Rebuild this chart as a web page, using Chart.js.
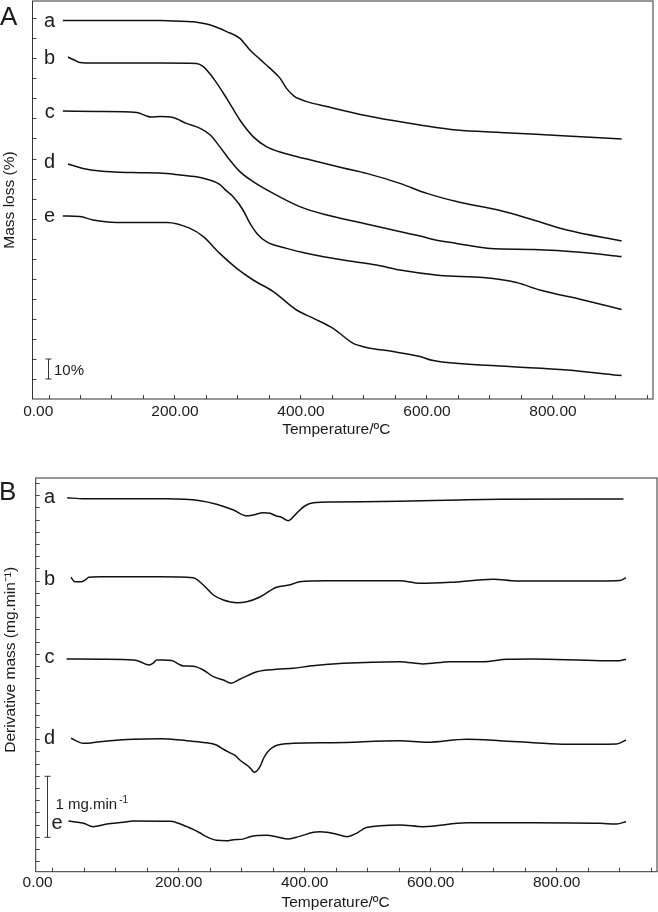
<!DOCTYPE html>
<html>
<head>
<meta charset="utf-8">
<script src="https://cdn.jsdelivr.net/npm/chart.js@4.4.1/dist/chart.umd.min.js"></script>
<style>
html,body{margin:0;padding:0;background:#fff;}
#wrap{position:relative;width:658px;height:912px;overflow:hidden;}
canvas{position:absolute;left:0;}
#cA{top:0;}
#cB{top:450px;}
</style>
</head>
<body>
<div id="wrap">
<canvas id="cA" width="658" height="450"></canvas>
<canvas id="cB" width="658" height="462"></canvas>
</div>
<script>
// ---------------- DATA ----------------
const curveNames = ['a', 'b', 'c', 'd', 'e'];

// Temperature axis ticks (ºC), labelled every 200
const tempTicks = [0, 50, 100, 150, 200, 250, 300, 350, 400, 450, 500, 550, 600, 650, 700, 750, 800, 850, 900, 950];
const tempLabelled = [0, 200, 400, 600, 800];

// Panel A (mass loss, stacked curves, % units) — y tick positions every 10 %
const tgaTicks = [10, 20, 30, 40, 50, 60, 70, 80, 90, 100, 110, 120, 130, 140, 150, 160, 170, 180, 190];

const tgaT_a = [22, 100, 176, 200, 229, 256, 282, 303, 319, 335, 351, 367, 377, 390, 398, 409, 441, 494, 546, 589, 647, 716, 822, 909];
const tgaM_a = [189.2, 189.2, 189.2, 189.0, 188.6, 187.0, 183.7, 180.3, 174.5, 169.8, 165.3, 160.3, 155.3, 151.2, 150.0, 148.7, 146.2, 142.3, 139.2, 137.0, 134.5, 133.3, 131.5, 130.0];

const tgaT_b = [30, 40, 49, 70, 120, 176, 234, 245, 261, 282, 303, 324, 345, 372, 398, 414, 467, 504, 557, 600, 647, 716, 769, 822, 909];
const tgaM_b = [171.0, 169.5, 168.3, 168.0, 168.0, 168.0, 167.8, 166.2, 160.3, 150.3, 139.5, 131.2, 126.2, 123.0, 120.8, 119.6, 115.5, 112.8, 107.8, 102.8, 98.7, 94.2, 89.5, 84.5, 79.0];

const tgaT_c = [22, 80, 139, 155, 163, 176, 197, 218, 240, 256, 271, 287, 303, 324, 356, 398, 441, 494, 546, 589, 610, 647, 700, 769, 848, 909];
const tgaM_c = [144.0, 143.8, 143.3, 141.5, 141.0, 141.2, 140.7, 137.8, 135.3, 132.0, 126.2, 119.5, 113.7, 108.7, 102.8, 96.2, 92.0, 88.2, 84.5, 81.5, 79.8, 77.8, 75.3, 74.8, 73.3, 71.2];

const tgaT_d = [30, 54, 81, 134, 187, 208, 240, 266, 274, 279, 292, 308, 319, 330, 345, 377, 414, 467, 520, 557, 621, 689, 742, 779, 848, 909];
const tgaM_d = [117.5, 115.3, 114.0, 113.2, 112.8, 112.0, 110.8, 108.2, 106.5, 104.8, 101.2, 94.5, 87.8, 82.8, 78.7, 75.3, 72.5, 69.5, 67.0, 64.5, 61.8, 60.7, 58.2, 54.5, 49.5, 44.8];

const tgaT_e = [22, 49, 70, 107, 187, 224, 245, 271, 298, 324, 356, 393, 420, 451, 483, 504, 546, 589, 610, 716, 822, 909];
const tgaM_e = [91.5, 91.2, 89.5, 88.3, 88.3, 85.3, 81.2, 72.8, 65.3, 59.5, 53.7, 44.5, 40.3, 35.3, 27.8, 25.8, 23.7, 21.2, 19.2, 16.5, 14.5, 11.7];

// Panel B (derivative mass, stacked curves, mg/min units) — y ticks every 0.2
const dtgTicks = [0, 0.2, 0.4, 0.6, 0.8, 1.0, 1.2, 1.4, 1.6, 1.8, 2.0, 2.2, 2.4, 2.6, 2.8, 3.0, 3.2, 3.4, 3.6, 3.8, 4.0, 4.2, 4.4, 4.6, 4.8, 5.0, 5.2, 5.4, 5.6, 5.8, 6.0, 6.2];

const dtgT_a = [23, 49, 181, 234, 260, 287, 308, 318, 334, 345, 355, 363, 374, 387, 400, 414, 445, 551, 646, 710, 906];
const dtgD_a = [5.967, 5.95, 5.95, 5.918, 5.86, 5.765, 5.67, 5.684, 5.721, 5.711, 5.667, 5.646, 5.59, 5.711, 5.831, 5.885, 5.897, 5.908, 5.93, 5.941, 5.946];

const dtgT_b = [29, 35, 46, 53, 57, 75, 170, 223, 239, 255, 271, 292, 308, 329, 355, 377, 392, 435, 551, 583, 631, 699, 736, 869, 900, 910];
const dtgD_b = [4.662, 4.59, 4.59, 4.63, 4.662, 4.672, 4.672, 4.656, 4.536, 4.372, 4.29, 4.246, 4.262, 4.34, 4.498, 4.54, 4.59, 4.607, 4.607, 4.564, 4.58, 4.63, 4.602, 4.602, 4.61, 4.656];

const dtgT_c = [22, 80, 128, 139, 147, 153, 160, 165, 176, 189, 200, 207, 223, 239, 255, 271, 283, 297, 324, 355, 382, 408, 461, 551, 588, 631, 683, 721, 763, 869, 900, 910];
const dtgD_c = [3.323, 3.32, 3.307, 3.279, 3.24, 3.225, 3.26, 3.307, 3.307, 3.30, 3.24, 3.208, 3.205, 3.143, 3.033, 2.979, 2.924, 2.99, 3.115, 3.154, 3.17, 3.208, 3.252, 3.279, 3.241, 3.279, 3.279, 3.318, 3.323, 3.296, 3.296, 3.318];

const dtgT_d = [29, 49, 75, 128, 170, 213, 240, 260, 271, 281, 290, 297, 308, 314, 320, 329, 335, 342, 353, 382, 445, 551, 594, 657, 710, 763, 816, 895, 910];
const dtgD_d = [2.023, 1.941, 1.967, 2.006, 2.016, 1.984, 1.955, 1.913, 1.843, 1.787, 1.74, 1.667, 1.585, 1.53, 1.466, 1.56, 1.70, 1.81, 1.897, 1.941, 1.951, 1.984, 1.957, 2.006, 1.984, 1.951, 1.924, 1.93, 1.995];

const dtgT_e = [25, 49, 64, 86, 112, 128, 186, 197, 213, 223, 234, 244, 260, 276, 287, 302, 313, 340, 355, 374, 392, 414, 424, 435, 451, 467, 482, 498, 551, 588, 657, 763, 869, 895, 910];
const dtgD_e = [0.667, 0.629, 0.574, 0.618, 0.645, 0.667, 0.661, 0.64, 0.574, 0.53, 0.47, 0.41, 0.35, 0.342, 0.36, 0.37, 0.41, 0.432, 0.41, 0.372, 0.415, 0.482, 0.49, 0.482, 0.449, 0.41, 0.465, 0.56, 0.602, 0.574, 0.639, 0.639, 0.629, 0.618, 0.656];

// ---------------- RENDERING ----------------
const FONT = '"Liberation Sans", Arial, Helvetica, sans-serif';
const INK = '#1b1b1b';
const NB = '\u00A0';

function toPoints(ts, vs) { return ts.map((t, i) => ({ x: t, y: vs[i] })); }

function makeDatasets(seriesT, seriesV) {
  return curveNames.map((n, k) => ({
    label: n,
    data: toPoints(seriesT[k], seriesV[k]),
    borderColor: '#111',
    borderWidth: 1.5,
    pointRadius: 0,
    fill: false,
    cubicInterpolationMode: 'monotone'
  }));
}

const decor = {
  id: 'decor',
  afterDatasetsDraw(chart, args, o) {
    const { ctx, chartArea: ca, scales: { x, y } } = chart;
    ctx.save();
    // frame
    ctx.strokeStyle = '#333';
    ctx.lineWidth = 1;
    ctx.strokeRect(ca.left, ca.top, ca.right - ca.left, ca.bottom - ca.top);
    ctx.fillStyle = INK;
    // panel letter
    ctx.font = '26px ' + FONT;
    ctx.textAlign = 'left';
    ctx.textBaseline = 'alphabetic';
    ctx.fillText(o.panel, o.panelX, o.panelBaseline);
    // curve labels
    ctx.font = '20px ' + FONT;
    ctx.textAlign = 'center';
    chart.data.datasets.forEach((ds, i) => {
      const px = x.getPixelForValue(o.labelT[i]);
      const py = y.getPixelForValue(ds.data[0].y) + o.labelDy[i];
      ctx.fillText(ds.label, px, py);
    });
    // scale bar
    const bx = Math.round(x.getPixelForValue(o.barT)) + 0.5;
    const y1 = y.getPixelForValue(o.barFrom);
    const y2 = y.getPixelForValue(o.barTo);
    ctx.strokeStyle = '#333';
    ctx.lineWidth = 1;
    ctx.beginPath();
    ctx.moveTo(bx, y1); ctx.lineTo(bx, y2);
    ctx.moveTo(bx - 3, y1); ctx.lineTo(bx + 3, y1);
    ctx.moveTo(bx - 3, y2); ctx.lineTo(bx + 3, y2);
    ctx.stroke();
    ctx.font = '15px ' + FONT;
    ctx.textAlign = 'left';
    const tx = bx + o.barTextDx;
    const ty = y.getPixelForValue(o.barTextV) + o.barTextDy;
    ctx.fillText(o.barText, tx, ty);
    if (o.barSup) {
      const w = ctx.measureText(o.barText).width;
      ctx.font = '10px ' + FONT;
      ctx.fillText(o.barSup, tx + w + 2, ty - 6);
    }
    ctx.restore();
  }
};

function tempLabel(v, spaces) {
  if (!tempLabelled.includes(v)) return '';
  return v === 0 ? '0.00' + NB.repeat(spaces) : v.toFixed(2);
}

const gridCfg = { display: true, drawOnChartArea: false, drawTicks: true, tickLength: -4, color: '#444', lineWidth: 1 };

function buildChart(canvasId, p) {
  return new Chart(document.getElementById(canvasId), {
    type: 'line',
    data: { datasets: makeDatasets(p.T, p.V) },
    options: {
      responsive: false,
      animation: false,
      devicePixelRatio: 1,
      layout: { padding: p.pad },
      scales: {
        x: {
          type: 'linear', min: p.xMin, max: p.xMax,
          afterBuildTicks: ax => { ax.ticks = tempTicks.map(v => ({ value: v })); },
          afterFit: s => { s.height = p.xH; },
          border: { display: false },
          grid: gridCfg,
          ticks: { autoSkip: false, maxRotation: 0, minRotation: 0, padding: p.xTickPad, color: INK,
                   font: { family: FONT, size: 15.5 }, callback: v => tempLabel(v, p.zeroSpaces) },
          title: { display: true, text: 'Temperature/ºC' + NB.repeat(p.xTitleSpaces), color: INK, font: { family: FONT, size: 15.5 },
                   padding: { top: 0, bottom: p.xTitlePad } }
        },
        y: {
          type: 'linear', min: p.yMin, max: p.yMax,
          afterBuildTicks: ax => { ax.ticks = p.yTicks.map(v => ({ value: v })); },
          afterFit: s => { s.width = p.yW; },
          border: { display: false },
          grid: gridCfg,
          ticks: { display: false },
          title: { display: true, text: p.yTitle, color: INK, font: { family: FONT, size: 15.5 },
                   padding: { top: p.yTitlePad, bottom: 0 } }
        }
      },
      plugins: { legend: { display: false }, tooltip: { enabled: false }, decor: p.decor }
    },
    plugins: [decor]
  });
}

buildChart('cA', {
  T: [tgaT_a, tgaT_b, tgaT_c, tgaT_d, tgaT_e],
  V: [tgaM_a, tgaM_b, tgaM_c, tgaM_d, tgaM_e],
  pad: { top: 1, right: 5, left: 0, bottom: 0 },
  xMin: -26.2, xMax: 958.8, xH: 51, xTickPad: 7, xTitlePad: 11, zeroSpaces: 5, xTitleSpaces: 3,
  yMin: 0, yMax: 199, yTicks: tgaTicks, yW: 32.5, yTitle: 'Mass loss (%)', yTitlePad: 0,
  decor: { panel: 'A', panelX: 0, panelBaseline: 25, labelT: [1, 1, 1, 1, 1], labelDy: [6, 7, 7, 4, 6],
           barT: -2, barFrom: 10, barTo: 20, barText: '10%', barTextDx: 5.5, barTextV: 15, barTextDy: 5.5 }
});

buildChart('cB', {
  T: [dtgT_a, dtgT_b, dtgT_c, dtgT_d, dtgT_e],
  V: [dtgD_a, dtgD_b, dtgD_c, dtgD_d, dtgD_e],
  pad: { top: 28, right: 1, left: 0, bottom: 0 },
  xMin: -27, xMax: 959.2, xH: 40.3, xTickPad: 5.7, xTitlePad: 0, zeroSpaces: 7, xTitleSpaces: 5,
  yMin: -0.164, yMax: 6.29, yTicks: dtgTicks, yW: 35.7,
  yTitle: NB.repeat(7) + 'Derivative mass (mg.min\u207B\u00B9)', yTitlePad: 1,
  decor: { panel: 'B', panelX: -1, panelBaseline: 50, labelT: [-5, -5, -5, -5, 7], labelDy: [5, 7.5, 4.5, 5.5, 8],
           barT: -9, barFrom: 0.4, barTo: 1.4, barText: '1 mg.min', barSup: '-1', barTextDx: 8, barTextV: 0.859, barTextDy: 0 }
});
</script>
</body>
</html>
